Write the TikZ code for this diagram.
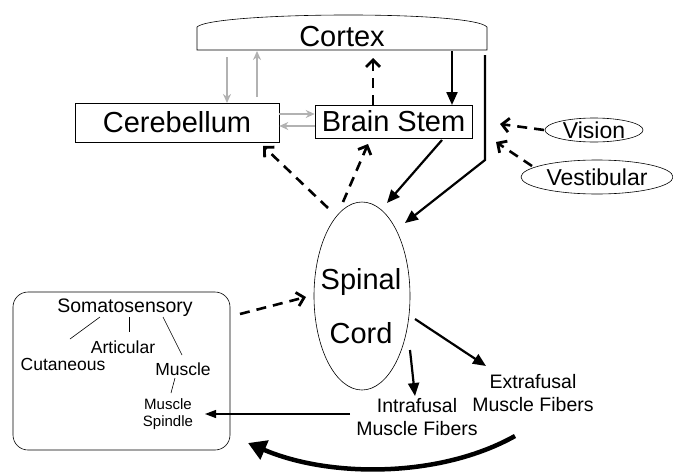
\documentclass[tikz,border=0pt]{standalone}
\usepackage{fontspec}
\setmainfont{Liberation Sans}
\usetikzlibrary{arrows.meta}
\begin{document}
\begin{tikzpicture}[x=1pt,y=-1pt,
  big/.style={font=\fontsize{29}{31}\selectfont, inner sep=0pt},
  mid/.style={font=\fontsize{19.5}{23}\selectfont, inner sep=0pt, align=center},
  sml/.style={font=\fontsize{17.5}{20}\selectfont, inner sep=0pt},
  tiny/.style={font=\fontsize{15}{18}\selectfont, inner sep=0pt, align=center},
  ovl/.style={font=\fontsize{23}{25}\selectfont, inner sep=0pt},
  thinline/.style={line width=0.6pt},
  dasharrow/.style={line width=2.6pt, dash pattern=on 10pt off 7pt,
     -{Straight Barb[length=7pt,width=14pt,line width=2.8pt]}},
  solidarrow/.style={line width=2.2pt, -{Triangle[length=13pt,width=11pt]}},
  thinarrow/.style={line width=1.2pt, -{Triangle[length=11pt,width=8pt]}},
  grayarrow/.style={draw=gray!60, line width=2pt, -{Stealth[length=9pt,width=8pt]}},
  fatarrow/.style={line width=4.5pt, -{Triangle[length=18pt,width=20pt]}}]
\useasboundingbox (0,0) rectangle (673,474);

% Cortex
\draw[thinline] (197,50) -- (197,27) .. controls (212,12) and (472,10) .. (487,27) -- (487,50) -- cycle;
\node[big] (cortex) at (342,37) {Cortex};

% Cerebellum and Brain Stem
\node[big, draw, thinline, minimum width=204pt, minimum height=39pt] (cereb) at (177,122.5) {Cerebellum};
\node[big, draw, thinline, minimum width=157pt, minimum height=33pt] (bstem) at (393.5,121.5) {Brain Stem};

% Spinal cord
\draw[thinline] (362,296) ellipse [x radius=48, y radius=94];
\node[big] (spinal) at (361,282) {Spinal};
\node[big] (cord) at (361,333) {Cord};

% Vision / Vestibular
\draw[thinline] (594,130) ellipse [x radius=49, y radius=12];
\node[ovl] (vision) at (594,130) {Vision};
\draw[thinline] (597,177) ellipse [x radius=76, y radius=17];
\node[ovl] (vest) at (597,177) {Vestibular};

% Somatosensory box
\draw[thinline, rounded corners=15pt] (13,292) rectangle (230,450);
\node[mid] (soma) at (125,308) {Somatosensory};
\node[sml] (artic) at (123,347) {Articular};
\node[sml] (cutan) at (63,364) {Cutaneous};
\node[sml] (muscle) at (183,369) {Muscle};
\node[tiny] (spindle) at (168,414) {Muscle\\[-1pt]Spindle};
\draw[thinline] (100,317) -- (70,339);
\draw[thinline] (129,317) -- (129,332);
\draw[thinline] (163,317) -- (182,355);
\draw[thinline] (175,378) -- (171,393);

% Muscle fibers
\node[mid] (intra) at (417,417) {Intrafusal\\Muscle Fibers};
\node[mid] (extra) at (533,393) {Extrafusal\\Muscle Fibers};

% Coordinates for free ends
\coordinate (c1) at (227,57);
\coordinate (c2) at (227,103);
\coordinate (c3) at (257,97);
\coordinate (c4) at (257,51);
\coordinate (bs1) at (373,105);
\coordinate (cx1) at (373,58);
\coordinate (cx2) at (452,51);
\coordinate (bs2) at (452,105);
\coordinate (cx3) at (485,55);
\coordinate (k1) at (485,160);
\coordinate (sc1) at (405,223);
\coordinate (bs3) at (442,140);
\coordinate (sc2) at (387,203);
\coordinate (sc3) at (328,208);
\coordinate (ce1) at (263,146);
\coordinate (sc4) at (343,202);
\coordinate (bs4) at (368,144);
\coordinate (v1) at (544,130);
\coordinate (v2) at (500,124);
\coordinate (ve1) at (532,166);
\coordinate (ve2) at (496,142);
\coordinate (so1) at (240,314);
\coordinate (sc5) at (306,297);
\coordinate (sc6) at (410,350);
\coordinate (in1) at (415,396);
\coordinate (sc7) at (415,319);
\coordinate (ex1) at (486,366);
\coordinate (in2) at (350,414);
\coordinate (sp1) at (205,414);
\coordinate (f1) at (515,436);
\coordinate (f2) at (248,443);

% Gray arrows
\draw[grayarrow] (c1) -- (c2);
\draw[grayarrow] (c3) -- (c4);
\draw[grayarrow] (cereb.east |- 0,114) -- (bstem.west |- 0,114);
\draw[grayarrow] (bstem.west |- 0,126) -- (cereb.east |- 0,126);

% Dashed arrows
\draw[dasharrow] (bs1) -- (cx1);
\draw[dasharrow] (sc3) -- (ce1);
\draw[dasharrow] (sc4) -- (bs4);
\draw[dasharrow] (v1) -- (v2);
\draw[dasharrow] (ve1) -- (ve2);
\draw[dasharrow] (so1) -- (sc5);

% Solid arrows
\draw[solidarrow] (cx2) -- (bs2);
\draw[solidarrow] (cx3) -- (k1) -- (sc1);
\draw[solidarrow] (bs3) -- (sc2);
\draw[solidarrow] (sc6) -- (in1);
\draw[solidarrow] (sc7) -- (ex1);
\draw[thinarrow] (in2) -- (sp1);
\draw[fatarrow] (f1) .. controls (440,478) and (330,478) .. (f2);
\end{tikzpicture}
\end{document}
